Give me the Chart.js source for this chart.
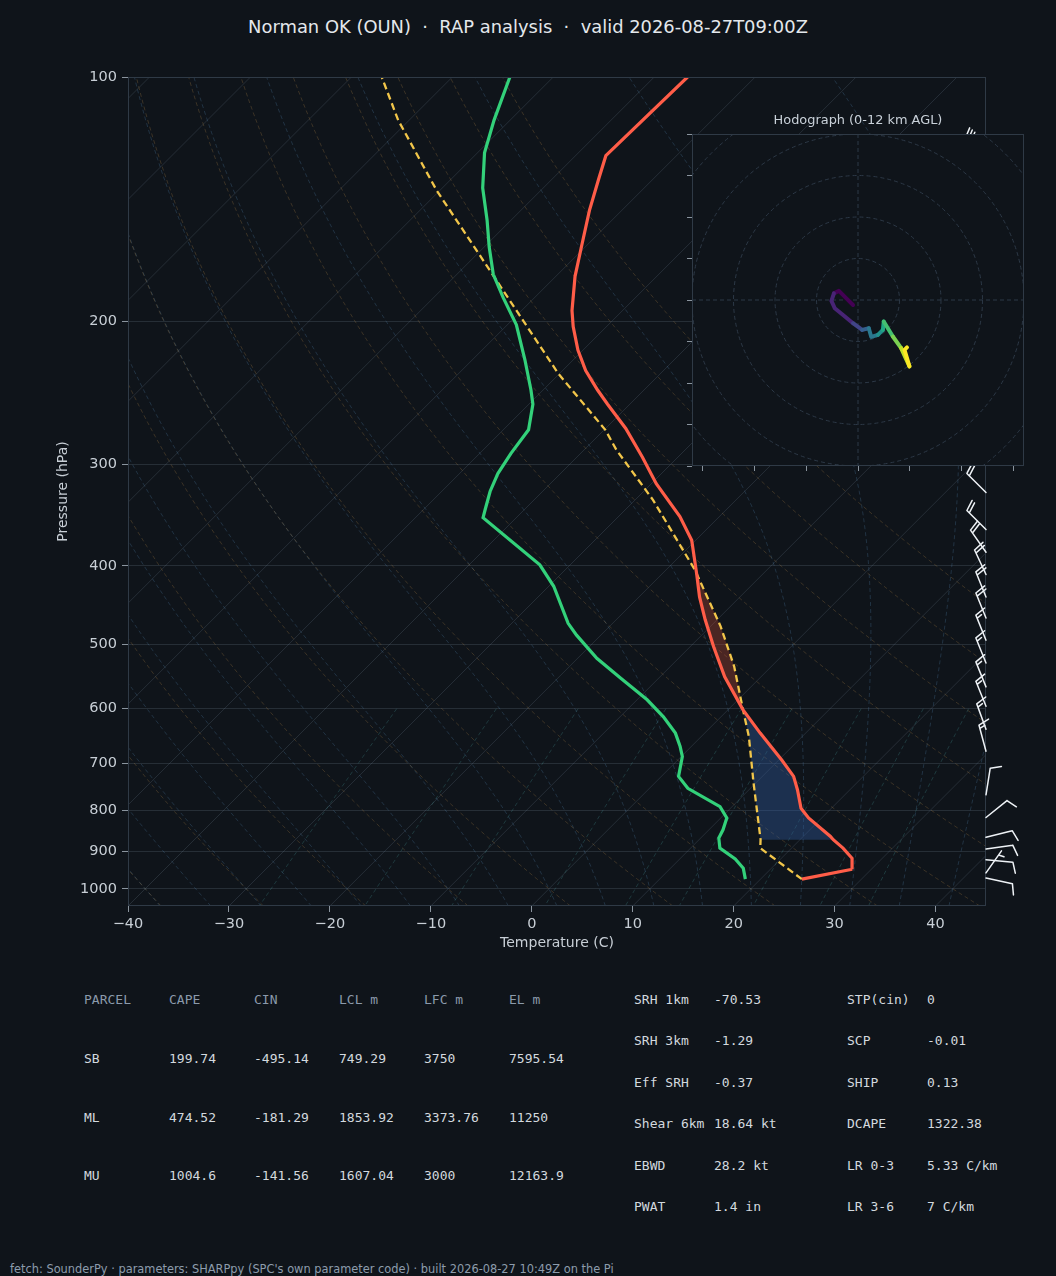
<!DOCTYPE html>
<html>
<head>
<meta charset="utf-8">
<script src="https://cdn.jsdelivr.net/npm/chart.js@4.4.0/dist/chart.umd.min.js"></script>
<style>
  html, body { margin: 0; padding: 0; background: #0f141a; }
  body { width: 1056px; height: 1276px; position: relative; overflow: hidden;
         font-family: "DejaVu Sans", sans-serif; color: #d6dce2; }
  #title { position: absolute; top: 17px; left: 0; width: 1056px; text-align: center;
           font-size: 17.9px; line-height: 20px; white-space: pre; color: #e4e8ec; }
  #skew { position: absolute; left: 0; top: 0; }
  #hodo { position: absolute; left: 662px; top: 124px; }
  #hodoTitle { position: absolute; left: 692px; width: 332px; top: 112px; text-align: center;
               font-size: 12.9px; line-height: 16px; color: #c9d1d9; }
  .cell { position: absolute; font-family: "DejaVu Sans Mono", monospace; font-size: 13px;
          line-height: 16px; white-space: pre; color: #d3d9df; }
  .hd { color: #8b9aab; }
  #footer { position: absolute; left: 10px; top: 1262px; font-size: 11.4px; line-height: 14px;
            color: #8d9cac; white-space: pre; }
</style>
</head>
<body>
<div id="title">Norman OK (OUN)  ·  RAP analysis  ·  valid 2026-08-27T09:00Z</div>
<canvas id="skew" width="1056" height="960"></canvas>
<canvas id="hodo" width="370" height="362"></canvas>
<div id="hodoTitle">Hodograph (0-12 km AGL)</div>
<div id="tables"></div>
<div id="footer">fetch: SounderPy · parameters: SHARPpy (SPC's own parameter code) · built 2026-08-27 10:49Z on the Pi</div>

<script>
// ---- sounding profile (hPa, degC) ----
const tempP = [973, 946, 917, 891, 870, 862, 818, 796, 755, 727, 694, 643, 602, 548, 503, 466, 437, 409,
               372, 348, 317, 294, 271, 253, 243, 230, 217, 203, 194, 176, 163, 146, 133, 125, 100];
const tempT = [24.1, 28.1, 27.0, 25.1, 23.3, 22.7, 18.7, 17.0, 14.8, 13.1, 10.3, 5.5, 1.5, -3.6, -7.7, -11.2, -14.0, -16.6,
               -20.4, -23.9, -29.5, -33.5, -38.0, -42.2, -44.6, -47.7, -50.5, -53.3, -55.0, -58.1, -60.2, -63.2, -65.5, -67.0, -66.7];

const dewP = [973, 943, 919, 891, 866, 846, 818, 792, 752, 727, 687, 668, 643, 614, 585, 550, 520, 487, 471, 424,
              399, 349, 341, 324, 308, 291, 272, 253, 243, 223, 202, 187, 175, 162, 150, 137, 124, 113, 100];
const dewT = [18.5, 17.2, 15.5, 12.9, 11.8, 11.4, 10.6, 8.8, 3.8, 1.7, 0.1, -1.1, -2.9, -5.7, -9.0, -13.8, -18.1, -22.4, -24.4, -29.5,
              -33.0, -43.3, -43.9, -45.2, -46.2, -46.9, -47.5, -49.6, -51.2, -54.8, -59.1, -63.1, -66.4, -69.5, -72.4, -76.0, -79.3, -81.6, -84.3];

const parcelP = [973, 891, 870, 741, 649, 602, 532, 475, 405, 332, 288, 272, 232, 195, 165, 138, 113, 100];
const parcelT = [24.1, 16.9, 16.1, 9.8, 4.7, 1.5, -3.7, -9.0, -17.1, -28.2, -36.8, -39.9, -50.1, -60.2, -69.9, -80.3, -91.1, -97.0];

// ---- wind barbs (hPa, direction from, knots) ----
const barbP   = [125, 150, 175, 200, 225, 250, 275, 300, 325, 361, 385, 410, 437, 464, 494, 527, 564, 596, 636, 677, 766, 817, 864, 893, 921, 956, 970];
const barbDir = [310, 312, 315, 315, 315, 315, 315, 315, 315, 315, 325, 335, 338, 338, 338, 338, 338, 338, 340, 345, 9, 51, 76, 82, 95, 35, 102];
const barbSpd = [30, 30, 25, 25, 25, 25, 20, 20, 20, 20, 20, 20, 20, 20, 15, 15, 15, 15, 15, 15, 10, 10, 10, 10, 10, 5, 10];

// ---- hodograph (kt, km AGL) ----
const hodoU = [-1.2, -2.8, -4.6, -5.8, -6.4, -5.6, -3.6, -1.2, 1.0, 2.6, 3.2, 4.8, 6.0, 6.2, 8.4, 10.4, 12.4, 11.2, 11.8];
const hodoV = [-1.2, 0.4, 2.2, 1.6, -0.2, -2.0, -3.6, -5.6, -7.2, -6.8, -8.9, -8.4, -7.2, -5.2, -8.8, -11.6, -16.0, -12.0, -11.4];
const hodoH = [0, 0.2, 0.4, 0.6, 0.8, 1.0, 1.3, 1.7, 2.6, 3.4, 4.2, 5.2, 6.0, 6.8, 8.0, 9.4, 10.6, 11.4, 12.0];
const hodoRings = [10, 20, 30, 40, 50];

// ---- axes ----
const tempTicks = [-40, -30, -20, -10, 0, 10, 20, 30, 40];
const presTicks = [100, 200, 300, 400, 500, 600, 700, 800, 900, 1000];

// ---- parameter tables ----
const parcelCols = ['PARCEL', 'CAPE', 'CIN', 'LCL m', 'LFC m', 'EL m'];
const parcelRows = [
  ['SB', '199.74', '-495.14', '749.29', '3750', '7595.54'],
  ['ML', '474.52', '-181.29', '1853.92', '3373.76', '11250'],
  ['MU', '1004.6', '-141.56', '1607.04', '3000', '12163.9']
];
const paramsLeft = [['SRH 1km', '-70.53'], ['SRH 3km', '-1.29'], ['Eff SRH', '-0.37'],
                    ['Shear 6km', '18.64 kt'], ['EBWD', '28.2 kt'], ['PWAT', '1.4 in']];
const paramsRight = [['STP(cin)', '0'], ['SCP', '-0.01'], ['SHIP', '0.13'],
                     ['DCAPE', '1322.38'], ['LR 0-3', '5.33 C/km'], ['LR 3-6', '7 C/km']];

// tables
const tbl = document.getElementById('tables');
function cell(txt, x, yc, cls) {
  const d = document.createElement('div');
  d.className = 'cell' + (cls ? ' ' + cls : '');
  d.style.left = x + 'px';
  d.style.top = (yc - 8) + 'px';
  d.textContent = txt;
  tbl.appendChild(d);
}
parcelCols.forEach((c, i) => cell(c, 84 + 85 * i, 1000, 'hd'));
parcelRows.forEach((r, j) => r.forEach((c, i) => cell(c, 84 + 85 * i, 1059 + 58.7 * j)));
paramsLeft.forEach((r, j) => { cell(r[0], 634, 1000 + 41.45 * j); cell(r[1], 714, 1000 + 41.45 * j); });
paramsRight.forEach((r, j) => { cell(r[0], 847, 1000 + 41.45 * j); cell(r[1], 927, 1000 + 41.45 * j); });

// skew-T geometry
const P_BOT = 1050, P_TOP = 100;
const SKEW = 80.43; // degC of x shift per decade of pressure (45 deg isotherms)
const skx = (t, p) => t + SKEW * Math.log10(P_BOT / p);
const pts = (ps, ts) => ps.map((p, i) => ({ x: skx(ts[i], p), y: p }));

const curveP = [];
for (let i = 0; i <= 60; i++) curveP.push(P_BOT * Math.pow(P_TOP / P_BOT, i / 60));

function moistT(t0, p) {
  const Rd = 287.04749, Cp = 1004.6662, Lv = 2.50084e6, eps = 0.622;
  const f = (T, pp) => {
    const es = 6.112 * Math.exp(17.67 * (T - 273.15) / (T - 29.65));
    const rs = eps * es / (pp - es);
    return (Rd * T + Lv * rs) / (Cp + Lv * Lv * rs * eps / (Rd * T * T));
  };
  let T = t0 + 273.15, lp = Math.log(1000);
  const le = Math.log(p);
  const n = Math.max(1, Math.ceil(Math.abs(le - lp) / 0.02));
  const h = (le - lp) / n;
  for (let i = 0; i < n; i++) {
    const k1 = f(T, Math.exp(lp));
    const k2 = f(T + h / 2 * k1, Math.exp(lp + h / 2));
    const k3 = f(T + h / 2 * k2, Math.exp(lp + h / 2));
    const k4 = f(T + h * k3, Math.exp(lp + h));
    T += h / 6 * (k1 + 2 * k2 + 2 * k3 + k4);
    lp += h;
  }
  return T - 273.15;
}

function lineDs(data, color, width, dash, order) {
  return { data: data, showLine: true, borderColor: color, borderWidth: width, borderDash: dash || [],
           pointRadius: 0, fill: false, tension: 0, order: order, clip: 0 };
}

const datasets = [];
datasets.push(lineDs(pts(tempP, tempT), '#ff5d48', 3.2, [], 0));
datasets.push(lineDs(pts(dewP, dewT), '#33d17a', 3.2, [], 0));
datasets.push(lineDs(pts(parcelP, parcelT), '#f2c64a', 2.3, [7, 4], 0));

function band(pHi, pLo) {
  const env = tempP.map((p, i) => ({ p: p, t: tempT[i] })).filter(d => d.p <= pHi && d.p >= pLo);
  const par = parcelP.map((p, i) => ({ p: p, t: parcelT[i] })).filter(d => d.p <= pHi && d.p >= pLo).reverse();
  return env.concat(par).map(d => ({ x: skx(d.t, d.p), y: d.p }));
}
datasets.push({ data: band(602, 404), showLine: true, borderWidth: 0, borderColor: 'transparent',
                backgroundColor: 'rgba(235,85,60,0.28)', fill: 'shape', pointRadius: 0, order: 1, clip: 0 });
datasets.push({ data: band(870, 602), showLine: true, borderWidth: 0, borderColor: 'transparent',
                backgroundColor: 'rgba(50,95,165,0.38)', fill: 'shape', pointRadius: 0, order: 1, clip: 0 });

// background: isotherms, dry adiabats, moist adiabats, mixing ratio lines
for (let t = -120; t <= 40; t += 10) {
  datasets.push(lineDs([{ x: skx(t, P_BOT), y: P_BOT }, { x: skx(t, P_TOP), y: P_TOP }], 'rgba(130,150,170,0.2)', 1, [], 3));
}
for (let th = -40; th <= 90; th += 10) {
  datasets.push(lineDs(curveP.map(p => ({ x: skx((th + 273.15) * Math.pow(p / 1000, 0.2857) - 273.15, p), y: p })),
                       'rgba(170,130,70,0.32)', 0.9, [4, 3], 2));
}
for (let t0 = -40; t0 <= 60; t0 += 5) {
  datasets.push(lineDs(curveP.map(p => ({ x: skx(moistT(t0, p), p), y: p })),
                       'rgba(80,130,170,0.32)', 0.9, [4, 3], 2));
}
const mixW = [0.0004, 0.001, 0.002, 0.004, 0.007, 0.01, 0.016, 0.024, 0.032];
const mixP = [];
for (let i = 0; i <= 20; i++) mixP.push(600 + (P_BOT - 600) * i / 20);
mixW.forEach(w => {
  datasets.push(lineDs(mixP.map(p => {
    const e = p * w / (0.622 + w);
    const l = Math.log(e / 6.112);
    return { x: skx(243.5 * l / (17.67 - l), p), y: p };
  }), 'rgba(70,150,150,0.32)', 0.9, [4, 3], 2));
});

function drawBarb(ctx, x0, y0, dir, spd) {
  const L = 27, H = 0.4 * L, W = 0.25 * L, SP = 0.125 * L;
  const r = dir * Math.PI / 180;
  const dx = Math.sin(r), dy = -Math.cos(r);
  const px = -dy, py = dx;
  ctx.beginPath();
  ctx.moveTo(x0, y0);
  ctx.lineTo(x0 + dx * L, y0 + dy * L);
  let s = Math.round(spd / 5) * 5;
  const flags = Math.floor(s / 50); s -= flags * 50;
  const full = Math.floor(s / 10); s -= full * 10;
  const half = s >= 5;
  let off = L;
  for (let i = 0; i < flags; i++) {
    const bx = x0 + dx * off, by = y0 + dy * off;
    ctx.moveTo(bx, by);
    ctx.lineTo(bx + px * H - dx * W / 2, by + py * H - dy * W / 2);
    ctx.lineTo(bx - dx * W, by - dy * W);
    off -= W + SP;
  }
  for (let i = 0; i < full; i++) {
    const bx = x0 + dx * off, by = y0 + dy * off;
    ctx.moveTo(bx, by);
    ctx.lineTo(bx + px * H + dx * W / 2, by + py * H + dy * W / 2);
    off -= SP;
  }
  if (half) {
    if (off === L) off -= 1.5 * SP;
    const bx = x0 + dx * off, by = y0 + dy * off;
    ctx.moveTo(bx, by);
    ctx.lineTo(bx + px * H / 2 + dx * W / 4, by + py * H / 2 + dy * W / 4);
  }
  ctx.stroke();
}

const skewDecor = {
  id: 'skewDecor',
  afterDatasetsDraw(chart) {
    const { ctx, chartArea: a, scales } = chart;
    ctx.save();
    ctx.strokeStyle = '#2f3a46';
    ctx.lineWidth = 1;
    ctx.strokeRect(a.left + 0.5, a.top + 0.5, a.right - a.left - 1, a.bottom - a.top - 1);
    ctx.strokeStyle = '#eef2f6';
    ctx.lineWidth = 1.5;
    ctx.lineCap = 'round';
    barbP.forEach((p, i) => drawBarb(ctx, a.right, scales.y.getPixelForValue(p), barbDir[i], barbSpd[i]));
    ctx.restore();
  }
};

const tickFont = { family: 'DejaVu Sans', size: 14.5 };
const labelCol = '#c8cfd6';

Chart.defaults.font.family = 'DejaVu Sans';

new Chart(document.getElementById('skew'), {
  type: 'scatter',
  data: { datasets: datasets },
  options: {
    responsive: false,
    animation: false,
    layout: { padding: { top: 77, right: 70, left: 0, bottom: 0 } },
    plugins: { legend: { display: false }, tooltip: { enabled: false } },
    scales: {
      x: {
        type: 'linear', min: -40, max: 45,
        afterBuildTicks: s => { s.ticks = tempTicks.map(v => ({ value: v })); },
        afterFit: s => { s.height = 54; },
        ticks: { color: labelCol, font: tickFont, padding: 4, maxRotation: 0,
                 callback: v => String(v).replace('-', '\u2212') },
        grid: { drawOnChartArea: false, drawTicks: true, tickLength: 6, tickColor: '#8a949e' },
        border: { display: false },
        title: { display: true, text: 'Temperature (C)', color: labelCol,
                 font: { family: 'DejaVu Sans', size: 14 }, padding: { top: 0, bottom: 8 } }
      },
      y: {
        type: 'logarithmic', reverse: true, min: P_TOP, max: P_BOT,
        afterBuildTicks: s => { s.ticks = presTicks.map(v => ({ value: v })); },
        afterFit: s => { s.width = 128; },
        ticks: { color: labelCol, font: tickFont, padding: 5, callback: v => String(v) },
        grid: { color: 'rgba(130,150,170,0.2)', lineWidth: 1, drawTicks: true, tickLength: 6, tickColor: '#8a949e' },
        border: { display: false },
        title: { display: true, text: 'Pressure (hPa)', color: labelCol,
                 font: { family: 'DejaVu Sans', size: 14 }, padding: { top: 55, bottom: 0 } }
      }
    }
  },
  plugins: [skewDecor]
});

// hodograph
const viridis = ['#440154', '#482475', '#414487', '#355f8d', '#2a788e', '#21918c', '#22a884', '#44bf70', '#7ad151', '#bddf26', '#fde725'];
function viridisAt(f) {
  f = Math.min(1, Math.max(0, f));
  return viridis[Math.round(f * (viridis.length - 1))];
}

const hodoDecor = {
  id: 'hodoDecor',
  beforeDraw(chart) {
    const { ctx, chartArea: a } = chart;
    ctx.save();
    ctx.fillStyle = '#0f141a';
    ctx.fillRect(a.left, a.top, a.right - a.left, a.bottom - a.top);
    ctx.restore();
  },
  beforeDatasetsDraw(chart) {
    const { ctx, chartArea: a, scales: { x, y } } = chart;
    const cx = x.getPixelForValue(0), cy = y.getPixelForValue(0);
    ctx.save();
    ctx.beginPath();
    ctx.rect(a.left, a.top, a.right - a.left, a.bottom - a.top);
    ctx.clip();
    ctx.strokeStyle = '#2c3846';
    ctx.lineWidth = 1;
    ctx.setLineDash([4, 3]);
    hodoRings.forEach(r => {
      const rp = x.getPixelForValue(r) - cx;
      ctx.beginPath();
      ctx.arc(cx, cy, rp, 0, Math.PI * 2);
      ctx.stroke();
    });
    ctx.beginPath();
    ctx.moveTo(a.left, cy); ctx.lineTo(a.right, cy);
    ctx.moveTo(cx, a.top); ctx.lineTo(cx, a.bottom);
    ctx.stroke();
    ctx.restore();
  },
  afterDraw(chart) {
    const { ctx, chartArea: a } = chart;
    ctx.save();
    ctx.strokeStyle = '#2f3a46';
    ctx.lineWidth = 1;
    ctx.strokeRect(a.left + 0.5, a.top + 0.5, a.right - a.left - 1, a.bottom - a.top - 1);
    ctx.restore();
  }
};

new Chart(document.getElementById('hodo'), {
  type: 'scatter',
  data: {
    datasets: [{
      data: hodoU.map((u, i) => ({ x: u, y: hodoV[i] })),
      showLine: true, pointRadius: 0, borderWidth: 4,
      borderCapStyle: 'round', borderJoinStyle: 'round', borderColor: '#440154',
      segment: { borderColor: c => viridisAt(hodoH[c.p1DataIndex] / 12) },
      clip: 0
    }]
  },
  options: {
    responsive: false,
    animation: false,
    layout: { padding: { top: 10, right: 8, left: 0, bottom: 0 } },
    plugins: { legend: { display: false }, tooltip: { enabled: false } },
    scales: {
      x: {
        type: 'linear', min: -40, max: 40,
        afterBuildTicks: s => { s.ticks = [-37.5, -25, -12.5, 0, 12.5, 25, 37.5].map(v => ({ value: v })); },
        afterFit: s => { s.height = 20; },
        ticks: { display: false },
        grid: { drawOnChartArea: false, drawTicks: true, tickLength: 5, tickColor: '#8a949e' },
        border: { display: false }
      },
      y: {
        type: 'linear', min: -40, max: 40,
        afterBuildTicks: s => { s.ticks = [-40, -30, -20, -10, 0, 10, 20, 30, 40].map(v => ({ value: v })); },
        afterFit: s => { s.width = 30; },
        ticks: { display: false },
        grid: { drawOnChartArea: false, drawTicks: true, tickLength: 5, tickColor: '#8a949e' },
        border: { display: false }
      }
    }
  },
  plugins: [hodoDecor]
});
</script>
</body>
</html>
